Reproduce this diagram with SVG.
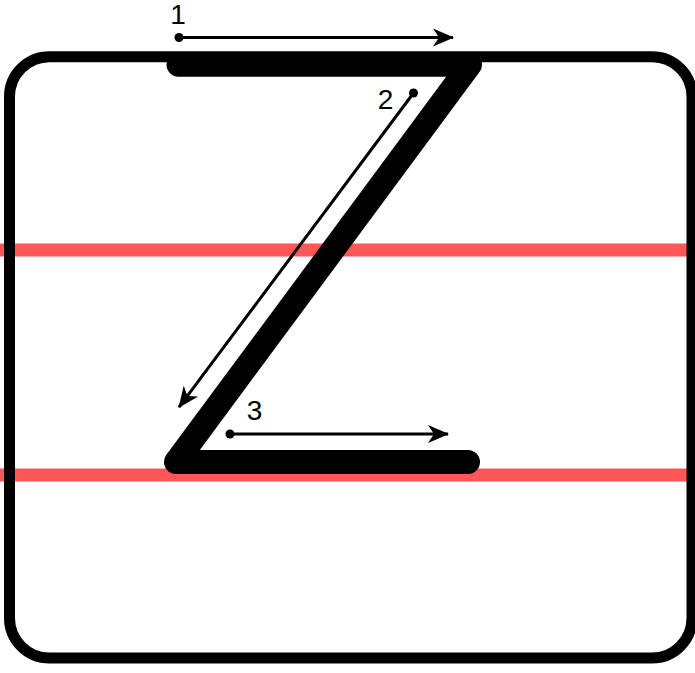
<svg xmlns="http://www.w3.org/2000/svg" width="695" height="673" viewBox="0 0 695 673">
<style>
.guide{stroke:#ff5757;stroke-width:13;fill:none}
.frame{stroke:#000;stroke-width:11;fill:none}
.letter{stroke:#000;stroke-width:24;fill:none;stroke-linecap:round;stroke-linejoin:round}
.arrow{stroke:#000;stroke-width:3;fill:none;marker-end:url(#head)}
.dot{fill:#000}
.num{font-family:"Liberation Sans",Arial,sans-serif;font-size:28px;fill:#000;text-anchor:middle}
</style>
<defs>
<marker id="head" markerUnits="userSpaceOnUse" markerWidth="22" markerHeight="18" refX="20" refY="9" orient="auto" overflow="visible">
<path d="M0,0 L21,9 L0,18 L6,9 Z" fill="#000"/>
</marker>
</defs>
<rect width="695" height="673" fill="#fff"/>
<g id="guides">
<line class="guide" x1="0" y1="250" x2="695" y2="250"/>
<line class="guide" x1="0" y1="475" x2="695" y2="475"/>
</g>
<g id="letter-z">
<path class="letter" d="M178.5,64.7 L470,64.7 L176,462 L468,462"/>
</g>
<g id="frame">
<rect class="frame" x="9.5" y="56.7" width="682.5" height="601.3" rx="40" ry="40"/>
</g>
<g id="connectors">
<line class="arrow" x1="179" y1="37.5" x2="453" y2="37.5"/>
<line class="arrow" x1="413.5" y1="93" x2="179" y2="407.2"/>
<line class="arrow" x1="230" y1="434" x2="448" y2="434"/>
</g>
<g id="step1">
<circle class="dot" cx="179" cy="37.5" r="4.5"/>
<text class="num" x="178" y="24">1</text>
</g>
<g id="step2">
<circle class="dot" cx="413.5" cy="93" r="4.5"/>
<text class="num" x="385.5" y="109">2</text>
</g>
<g id="step3">
<circle class="dot" cx="230" cy="434" r="4.5"/>
<text class="num" x="254.5" y="420">3</text>
</g>
</svg>
